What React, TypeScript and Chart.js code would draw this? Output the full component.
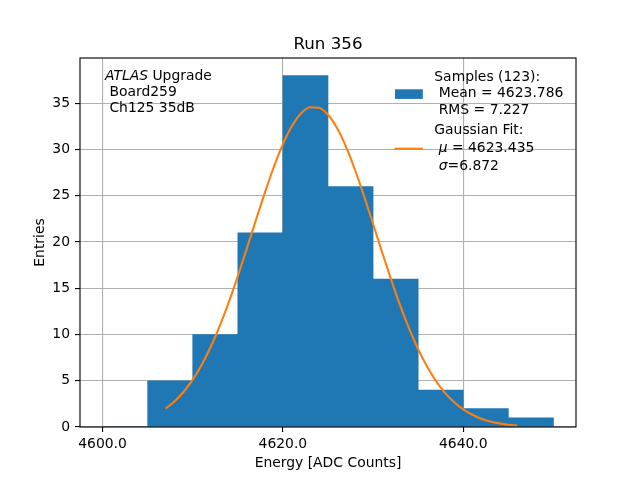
import React, { useEffect, useRef } from "react";
import { Chart, registerables } from "chart.js";

Chart.register(...registerables);

const chartTitle = "Run 356";
const xAxisLabel = "Energy [ADC Counts]";
const yAxisLabel = "Entries";

// histogram bins (5 ADC counts wide)
const binCenters = [4602.5, 4607.5, 4612.5, 4617.5, 4622.5, 4627.5, 4632.5, 4637.5, 4642.5, 4647.5];
const binCounts = [0, 5, 10, 21, 38, 26, 16, 4, 2, 1];

// gaussian fit curve
const fitX = [
  4607, 4608, 4609, 4610, 4611, 4612, 4613, 4614, 4615, 4616,
  4617, 4618, 4619, 4620, 4621, 4622, 4623, 4624, 4625, 4626,
  4627, 4628, 4629, 4630, 4631, 4632, 4633, 4634, 4635, 4636,
  4637, 4638, 4639, 4640, 4641, 4642, 4643, 4644, 4645, 4646,
];
const fitY = [
  1.99, 2.78, 3.81, 5.12, 6.74, 8.68, 10.94, 13.5, 16.31, 19.3,
  22.35, 25.34, 28.14, 30.58, 32.54, 33.9, 34.58, 34.53, 33.76, 32.32,
  30.29, 27.79, 24.97, 21.95, 18.9, 15.94, 13.15, 10.63, 8.41, 6.51,
  4.94, 3.67, 2.67, 1.9, 1.32, 0.9, 0.6, 0.39, 0.25, 0.16,
];

const xTicks = [4600, 4620, 4640];
const yTicks = [0, 5, 10, 15, 20, 25, 30, 35];
const xRange = [4597.5, 4652.5];
const yRange = [0, 39.9];

const infoLines = [
  [{ t: "ATLAS", i: true }, { t: " Upgrade", i: false }],
  [{ t: " Board259", i: false }],
  [{ t: " Ch125 35dB", i: false }],
];
const sampleLegend = [
  [{ t: "Samples (123):", i: false }],
  [{ t: " Mean = 4623.786", i: false }],
  [{ t: " RMS = 7.227", i: false }],
];
const fitLegend = [
  [{ t: "Gaussian Fit:", i: false }],
  [{ t: " ", i: false }, { t: "μ", i: true }, { t: " = 4623.435", i: false }],
  [{ t: " ", i: false }, { t: "σ", i: true }, { t: "=6.872", i: false }],
];

const BLUE = "#1f77b4";
const ORANGE = "#ff7f0e";
const FONT = "'DejaVu Sans', sans-serif";
const FS = 13.9;

function drawRich(ctx: CanvasRenderingContext2D, x: number, y: number, segs: { t: string; i: boolean }[]) {
  let cx = x;
  for (const s of segs) {
    ctx.font = `${s.i ? "italic " : ""}${FS}px ${FONT}`;
    ctx.fillText(s.t, cx, y);
    cx += ctx.measureText(s.t).width;
  }
}

const decorPlugin = {
  id: "decor",
  afterDraw(chart: any) {
    const ctx: CanvasRenderingContext2D = chart.ctx;
    const a = chart.chartArea;
    ctx.save();
    // spines
    ctx.strokeStyle = "#000";
    ctx.lineWidth = 1.11;
    ctx.strokeRect(a.left, a.top, a.right - a.left, a.bottom - a.top);

    ctx.fillStyle = "#000";
    ctx.textBaseline = "alphabetic";
    // title
    ctx.textAlign = "center";
    ctx.font = `16.67px ${FONT}`;
    ctx.fillText(chartTitle, (a.left + a.right) / 2, 48.5);
    // x label
    ctx.font = `${FS}px ${FONT}`;
    ctx.fillText(xAxisLabel, (a.left + a.right) / 2, 467.3);
    // y label
    ctx.save();
    ctx.translate(43.5, (a.top + a.bottom) / 2);
    ctx.rotate(-Math.PI / 2);
    ctx.fillText(yAxisLabel, 0, 0);
    ctx.restore();

    ctx.textAlign = "left";
    // info text
    const infoBase = [80, 96, 112];
    infoLines.forEach((segs, k) => drawRich(ctx, 105, infoBase[k], segs));

    // legend
    ctx.fillStyle = BLUE;
    ctx.fillRect(395, 89.3, 27.8, 9.6);
    ctx.strokeStyle = ORANGE;
    ctx.lineWidth = 2.08;
    ctx.beginPath();
    ctx.moveTo(394.5, 148.7);
    ctx.lineTo(422.8, 148.7);
    ctx.stroke();
    ctx.fillStyle = "#000";
    const sBase = [80.7, 97.4, 114.1];
    sampleLegend.forEach((segs, k) => drawRich(ctx, 434.3, sBase[k], segs));
    const fBase = [134, 151.7, 170];
    fitLegend.forEach((segs, k) => drawRich(ctx, 434.3, fBase[k], segs));
    ctx.restore();
  },
};

export default function App() {
  const ref = useRef<HTMLCanvasElement>(null);
  useEffect(() => {
    const canvas = ref.current!;
    const gridOpts = {
      color: "#b0b0b0",
      lineWidth: 1.11,
      drawTicks: true,
      tickLength: 5,
      tickColor: "#000",
      tickWidth: 1.11,
      offset: false,
    };
    const chart = new Chart(canvas, {
      type: "bar",
      data: {
        datasets: [
          {
            type: "line",
            data: fitX.map((x, i) => ({ x, y: fitY[i] })),
            borderColor: ORANGE,
            borderWidth: 2.08,
            pointRadius: 0,
            fill: false,
            cubicInterpolationMode: "monotone",
            order: 0,
          } as any,
          {
            type: "bar",
            data: binCenters.map((x, i) => ({ x, y: binCounts[i] })),
            backgroundColor: BLUE,
            borderWidth: 0,
            barPercentage: 1,
            categoryPercentage: 1,
            order: 1,
          } as any,
        ],
      },
      options: {
        responsive: false,
        animation: false,
        devicePixelRatio: 1,
        layout: { padding: { top: 58, right: 64, left: 0, bottom: 0 } },
        plugins: {
          legend: { display: false },
          tooltip: { enabled: false },
          title: { display: false },
        },
        scales: {
          x: {
            type: "linear",
            min: xRange[0],
            max: xRange[1],
            offset: false,
            afterBuildTicks: (s: any) => {
              s.ticks = xTicks.map((v) => ({ value: v }));
            },
            afterFit: (s: any) => {
              s.height = 53;
            },
            ticks: {
              color: "#000",
              font: { family: FONT, size: FS },
              padding: 4,
              maxRotation: 0,
              callback: (v: any) => Number(v).toFixed(1),
            },
            grid: gridOpts,
            border: { display: false },
          },
          y: {
            type: "linear",
            min: yRange[0],
            max: yRange[1],
            afterBuildTicks: (s: any) => {
              s.ticks = yTicks.map((v) => ({ value: v }));
            },
            afterFit: (s: any) => {
              s.width = 80;
            },
            ticks: {
              color: "#000",
              font: { family: FONT, size: FS },
              padding: 5,
              callback: (v: any) => String(v),
            },
            grid: gridOpts,
            border: { display: false },
          },
        },
      } as any,
      plugins: [decorPlugin],
    });
    return () => chart.destroy();
  }, []);
  return (
    <div style={{ position: "absolute", left: 0, top: 0, width: 640, height: 480, background: "#fff" }}>
      <canvas ref={ref} width={640} height={480} style={{ width: 640, height: 480 }} />
    </div>
  );
}
